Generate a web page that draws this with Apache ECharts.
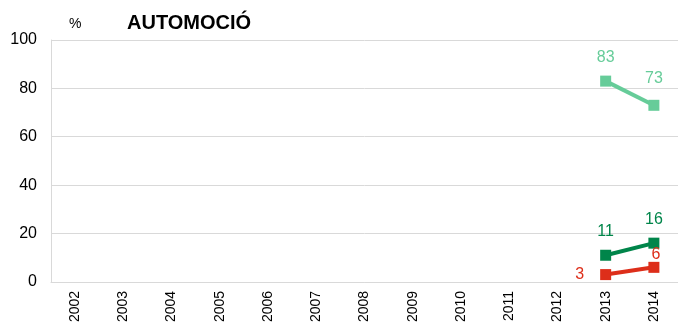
<!DOCTYPE html>
<html><head><meta charset="utf-8">
<script src="https://cdn.jsdelivr.net/npm/echarts@6/dist/echarts.min.js"></script>
<style>html,body{margin:0;padding:0;background:#fff}#c{width:678px;height:325px}</style>
</head><body><div id="c"></div>
<script>
const years = ['2002','2003','2004','2005','2006','2007','2008','2009','2010','2011','2012','2013','2014'];
const lightGreen = [null,null,null,null,null,null,null,null,null,null,null,83,73];
const darkGreen = [null,null,null,null,null,null,null,null,null,null,null,11,16];
const red = [null,null,null,null,null,null,null,null,null,null,null,3,6];
const yTicks = [0,20,40,60,80,100];

const font = 'Liberation Sans, Arial, sans-serif';
function mk(name, data, color, dist) {
  return {
    name, type: 'line', data, connectNulls: false,
    symbol: 'rect', symbolSize: 11,
    lineStyle: {width: 4, color},
    itemStyle: {color},
    label: {show: true, position: 'top', color, fontSize: 16, fontFamily: font, distance: dist},
    z: 2
  };
}
const lg = mk('lg', lightGreen, '#66CC99', 12);
lg.data = lightGreen.map((v,i)=> v===null?null:(i===12?{value:v, label:{distance:13}}:{value:v, label:{distance:10}}));
const dg = mk('dg', darkGreen, '#00854A', 10);
const rd = mk('r', red, '#DD2E1A', 0);
rd.data = red.map((v,i)=> v===null?null:(i===11
  ? {value:v, label:{position:'left', distance:16}}
  : {value:v, label:{position:'top', distance:-1, offset:[2,0]}}));
rd.z = 3;

const chart = echarts.init(document.getElementById('c'));
chart.setOption({
  animation: false,
  grid: {left: 51, width: 630, top: 40, height: 244},
  title: [
    {text: 'AUTOMOCIÓ', left: 122, top: 8, textStyle: {fontFamily: font, fontWeight: 'bold', fontSize: 20, color: '#000'}},
    {text: '%', left: 64, top: 12, textStyle: {fontFamily: font, fontWeight: 'normal', fontSize: 14, color: '#000'}}
  ],
  xAxis: {
    type: 'category', data: years, boundaryGap: true,
    axisLine: {lineStyle: {color: '#D9D9D9', width: 1}},
    axisTick: {show: false},
    axisLabel: {rotate: 90, fontSize: 14, fontFamily: font, color: '#000', margin: 9}
  },
  yAxis: {
    type: 'value', min: 0, max: 100, interval: 20,
    axisLine: {show: true, lineStyle: {color: '#D9D9D9'}},
    axisTick: {show: false},
    splitLine: {lineStyle: {color: '#D9D9D9'}},
    axisLabel: {fontSize: 16, fontFamily: font, color: '#000', margin: 14,
      formatter: v => yTicks.includes(v) ? String(v) : ''}
  },
  series: [lg, dg, rd]
});
</script></body></html>
